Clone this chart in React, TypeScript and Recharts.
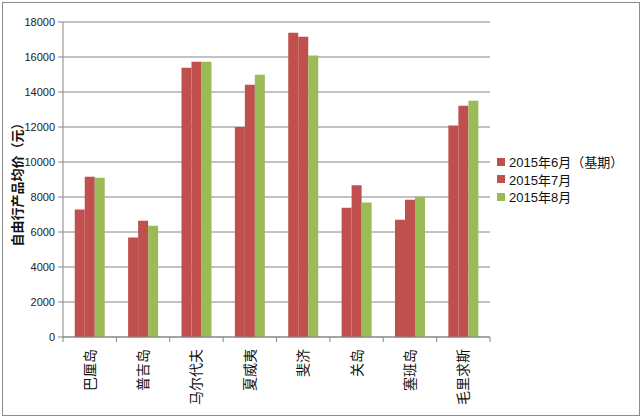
import React from 'react';
import { BarChart, Bar, XAxis, YAxis, CartesianGrid, Legend, Label } from 'recharts';

// 目的地
const categories = ['巴厘岛', '普吉岛', '马尔代夫', '夏威夷', '斐济', '关岛', '塞班岛', '毛里求斯'];
// 自由行产品均价（元）
const june = [7280, 5680, 15390, 12000, 17390, 7390, 6700, 12080];
const july = [9160, 6650, 15730, 14420, 17160, 8670, 7850, 13220];
const august = [9100, 6360, 15730, 14990, 16080, 7680, 8020, 13500];
const seriesNames = ['2015年6月（基期）', '2015年7月', '2015年8月'];
const yTicks = [0, 2000, 4000, 6000, 8000, 10000, 12000, 14000, 16000, 18000];

const RED = '#C0504D';
const GREEN = '#9BBB59';
const GRID = '#868686';
const FONT = '"Liberation Sans", "Noto Sans CJK SC", sans-serif';

const chartData = categories.map((name, i) => ({
  name,
  june: june[i],
  july: july[i],
  august: august[i],
}));

const W = 642;
const H = 418;
const margin = { top: 22, right: 152, bottom: 3, left: 0 };
const X_AXIS_H = 78;
const Y_AXIS_W = 63;
const BAND = (W - margin.right - Y_AXIS_W) / categories.length;

// 竖排的分类标签，刻度线画在分类边界上
const CategoryTick = (props: any) => {
  const { x, y, payload, index } = props;
  const half = BAND / 2;
  return (
    <g>
      <line x1={x - half} y1={y} x2={x - half} y2={y + 5} stroke={GRID} />
      {index === categories.length - 1 && (
        <line x1={x + half} y1={y} x2={x + half} y2={y + 5} stroke={GRID} />
      )}
      <text
        transform={`translate(${x},${y + 12}) rotate(-90)`}
        textAnchor="end"
        dominantBaseline="central"
        fontSize={14}
        fill="#111"
        fontFamily={FONT}
      >
        {payload.value}
      </text>
    </g>
  );
};

const LegendBox = () => {
  const colors = [RED, RED, GREEN];
  return (
    <div style={{ fontFamily: FONT, fontSize: 13, color: '#111' }}>
      {seriesNames.map((n, i) => (
        <div key={n} style={{ display: 'flex', alignItems: 'center', height: 17.5 }}>
          <span style={{ width: 8, height: 8, background: colors[i], marginRight: 4, display: 'inline-block' }} />
          <span>{n}</span>
        </div>
      ))}
    </div>
  );
};

export default function App() {
  return (
    <div style={{ position: 'relative', width: W, height: H, background: '#fff' }}>
      <style>{'body{margin:0}'}</style>
      <div
        style={{
          position: 'absolute',
          left: 2,
          top: 2,
          width: 636,
          height: 412,
          border: '1px solid #8c8c8c',
        }}
      />
      <BarChart
        width={W}
        height={H}
        data={chartData}
        margin={margin}
        barCategoryGap="22%"
        barGap={0}
        style={{ position: 'absolute', left: 0, top: 0 }}
      >
        <CartesianGrid vertical={false} stroke={GRID} />
        <XAxis
          dataKey="name"
          height={X_AXIS_H}
          axisLine={{ stroke: GRID }}
          tickLine={false}
          tickSize={0}
          tickMargin={0}
          interval={0}
          tick={<CategoryTick />}
        />
        <YAxis
          width={Y_AXIS_W}
          domain={[0, 18000]}
          ticks={yTicks}
          interval={0}
          axisLine={{ stroke: GRID }}
          tickLine={{ stroke: GRID }}
          tickSize={5}
          tickMargin={3}
          tick={{ fontSize: 11, fill: '#222', fontFamily: FONT }}
        >
          <Label
            content={({ viewBox }: any) => {
              const cx = viewBox.x + 17;
              const cy = viewBox.y + viewBox.height / 2 + 2;
              return (
                <text
                  transform={`translate(${cx},${cy}) rotate(-90)`}
                  textAnchor="middle"
                  dominantBaseline="central"
                  fontSize={13}
                  fontWeight="bold"
                  fill="#111"
                  fontFamily={FONT}
                >
                  自由行产品均价（元）
                </text>
              );
            }}
          />
        </YAxis>
        <Legend
          layout="vertical"
          align="center"
          verticalAlign="middle"
          content={<LegendBox />}
          wrapperStyle={{ left: 497, top: 153, width: 145 }}
        />
        <Bar dataKey="june" name={seriesNames[0]} fill={RED} isAnimationActive={false} />
        <Bar dataKey="july" name={seriesNames[1]} fill={RED} isAnimationActive={false} />
        <Bar dataKey="august" name={seriesNames[2]} fill={GREEN} isAnimationActive={false} />
      </BarChart>
    </div>
  );
}
